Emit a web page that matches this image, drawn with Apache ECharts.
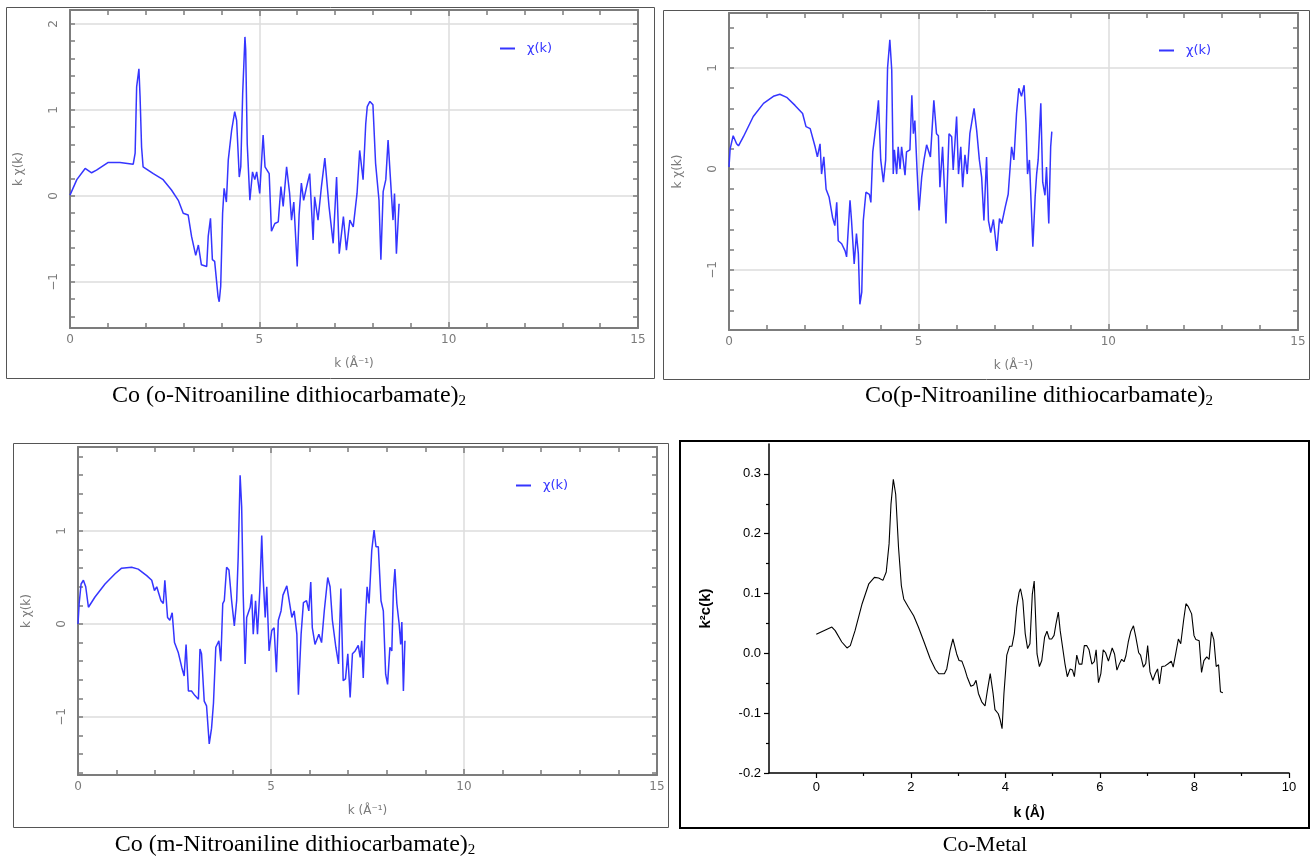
<!DOCTYPE html>
<html><head><meta charset="utf-8">
<script src="https://cdn.jsdelivr.net/npm/echarts@6/dist/echarts.min.js"></script>
<style>html,body{margin:0;padding:0;background:#fff}#c{width:1312px;height:863px}</style>
</head><body><div id="c"></div>
<script>
// ---------- DATA ----------
const kTicks = [0, 5, 10, 15];
const metalKTicks = [0, 2, 4, 6, 8, 10];
const metalKMinor = [1, 3, 5, 7, 9];
const metalYTicks = [-0.2, -0.1, 0, 0.1, 0.2, 0.3];
const metalYMinor = [-0.15, -0.05, 0.05, 0.15, 0.25];

const oMajor = [-1, 0, 1, 2];
const oMinor = [-1.4, -1.2, -1, -0.8, -0.6, -0.4, -0.2, 0, 0.2, 0.4, 0.6, 0.8, 1, 1.2, 1.4, 1.6, 1.8, 2];
const pMajor = [-1, 0, 1];
const pMinor = [-1.4, -1.2, -1, -0.8, -0.6, -0.4, -0.2, 0, 0.2, 0.4, 0.6, 0.8, 1, 1.2, 1.4];
const mMajor = [-1, 0, 1];
const mMinor = [-1.6, -1.4, -1.2, -1, -0.8, -0.6, -0.4, -0.2, 0, 0.2, 0.4, 0.6, 0.8, 1, 1.2, 1.4, 1.6, 1.8];

const captions = [
  'Co (o-Nitroaniline dithiocarbamate)',
  'Co(p-Nitroaniline dithiocarbamate)',
  'Co (m-Nitroaniline dithiocarbamate)',
  'Co-Metal'
];

const oNitro = [[0,0.01],[0.18,0.19],[0.40,0.32],[0.57,0.27],[0.70,0.30],[1.01,0.39],[1.32,0.39],[1.67,0.37],[1.72,0.50],[1.76,1.27],
[1.82,1.48],[1.85,1.16],[1.89,0.57],[1.93,0.34],[2.20,0.26],[2.46,0.19],[2.68,0.07],[2.86,-0.05],[2.99,-0.20],[3.12,-0.22],
[3.21,-0.47],[3.32,-0.69],[3.39,-0.57],[3.47,-0.80],[3.61,-0.82],[3.65,-0.47],[3.71,-0.26],[3.76,-0.74],[3.82,-0.76],[3.91,-1.17],
[3.94,-1.23],[3.98,-1.05],[4.03,-0.20],[4.07,0.09],[4.13,-0.07],[4.18,0.42],[4.27,0.77],[4.35,0.98],[4.40,0.88],[4.47,0.22],
[4.51,0.34],[4.56,1.19],[4.62,1.85],[4.64,1.70],[4.68,0.61],[4.75,-0.05],[4.82,0.28],[4.88,0.19],[4.93,0.28],[5.01,0.03],
[5.10,0.71],[5.15,0.34],[5.26,0.26],[5.32,-0.41],[5.41,-0.32],[5.50,-0.30],[5.57,0.11],[5.63,-0.12],[5.72,0.34],[5.80,0.03],
[5.85,-0.28],[5.91,-0.07],[6.00,-0.82],[6.05,-0.22],[6.11,0.15],[6.17,-0.05],[6.24,0.09],[6.33,0.26],[6.42,-0.51],[6.46,-0.01],
[6.55,-0.28],[6.64,0.11],[6.73,0.44],[6.77,0.46],[6.84,-0.12],[6.95,-0.55],[7.04,0.22],[7.11,-0.67],[7.22,-0.24],[7.30,-0.63],
[7.39,-0.28],[7.48,-0.36],[7.58,0.03],[7.65,0.53],[7.74,0.19],[7.81,0.84],[7.85,1.04],[7.92,1.10],[8.00,1.06],[8.07,0.38],
[8.16,-0.05],[8.21,-0.74],[8.27,0.05],[8.34,0.19],[8.40,0.65],[8.46,0.22],[8.53,-0.28],[8.57,0.03],[8.62,-0.67],[8.69,-0.09]];

const pNitro = [[0,0.02],[0.03,0.20],[0.11,0.33],[0.20,0.25],[0.25,0.23],[0.38,0.32],[0.64,0.52],[0.91,0.65],[1.17,0.72],[1.34,0.74],
[1.52,0.71],[1.74,0.63],[1.94,0.55],[2.03,0.42],[2.14,0.40],[2.27,0.22],[2.33,0.12],[2.40,0.25],[2.44,-0.05],[2.50,0.12],
[2.56,-0.20],[2.64,-0.28],[2.73,-0.48],[2.79,-0.56],[2.84,-0.33],[2.88,-0.71],[2.97,-0.74],[3.06,-0.81],[3.10,-0.87],[3.19,-0.31],
[3.23,-0.51],[3.30,-0.94],[3.36,-0.64],[3.41,-0.84],[3.45,-1.34],[3.50,-1.22],[3.54,-0.51],[3.61,-0.23],[3.70,-0.25],[3.74,-0.33],
[3.79,0.17],[3.89,0.48],[3.94,0.68],[4.00,0.09],[4.07,-0.13],[4.13,0.09],[4.18,1.00],[4.24,1.28],[4.29,0.98],[4.33,-0.05],
[4.36,0.19],[4.42,-0.05],[4.46,0.22],[4.51,0.00],[4.55,0.22],[4.64,-0.06],[4.68,0.17],[4.77,0.19],[4.82,0.73],[4.86,0.35],
[4.90,0.48],[4.96,-0.03],[5.01,-0.41],[5.08,-0.08],[5.14,0.09],[5.21,0.24],[5.31,0.12],[5.40,0.68],[5.47,0.35],[5.52,0.33],
[5.56,-0.18],[5.63,0.22],[5.72,-0.54],[5.80,0.35],[5.87,0.32],[5.91,-0.01],[6.00,0.52],[6.05,-0.05],[6.11,0.22],[6.16,-0.18],
[6.22,0.14],[6.28,-0.05],[6.35,0.35],[6.46,0.60],[6.53,0.38],[6.60,0.09],[6.66,-0.08],[6.72,-0.51],[6.79,0.12],[6.84,-0.51],
[6.90,-0.63],[6.97,-0.50],[7.06,-0.81],[7.13,-0.49],[7.19,-0.54],[7.28,-0.38],[7.36,-0.25],[7.45,0.22],[7.51,0.09],[7.58,0.55],
[7.64,0.80],[7.71,0.72],[7.78,0.83],[7.83,0.45],[7.87,-0.05],[7.92,0.09],[8.01,-0.77],[8.07,-0.28],[8.11,-0.05],[8.15,0.09],
[8.22,0.65],[8.27,-0.13],[8.33,-0.26],[8.37,0.02],[8.43,-0.54],[8.48,0.22],[8.51,0.37]];

const mNitro = [[0,0],[0.03,0.22],[0.08,0.43],[0.14,0.47],[0.20,0.40],[0.27,0.18],[0.44,0.29],[0.70,0.43],[0.96,0.54],[1.13,0.60],
[1.39,0.61],[1.56,0.59],[1.78,0.52],[1.91,0.47],[1.98,0.36],[2.04,0.40],[2.15,0.25],[2.21,0.22],[2.25,0.47],[2.32,0.07],
[2.38,0.04],[2.44,0.12],[2.50,-0.20],[2.60,-0.31],[2.69,-0.47],[2.75,-0.56],[2.80,-0.22],[2.86,-0.72],[2.94,-0.72],[3.03,-0.77],
[3.12,-0.81],[3.16,-0.27],[3.20,-0.32],[3.27,-0.83],[3.33,-0.88],[3.40,-1.29],[3.46,-1.12],[3.51,-0.85],[3.57,-0.25],[3.65,-0.18],
[3.70,-0.40],[3.75,0.22],[3.79,0.25],[3.85,0.61],[3.91,0.58],[3.98,0.25],[4.05,-0.02],[4.11,0.25],[4.15,0.72],[4.20,1.60],
[4.24,1.26],[4.28,0.32],[4.33,-0.43],[4.37,0.07],[4.46,0.18],[4.50,0.32],[4.54,-0.11],[4.60,0.25],[4.65,-0.11],[4.71,0.36],
[4.76,0.95],[4.80,0.47],[4.85,0.07],[4.89,0.40],[4.95,-0.29],[5.02,-0.07],[5.08,-0.04],[5.14,-0.52],[5.19,0.04],[5.26,0.14],
[5.31,0.31],[5.41,0.41],[5.45,0.40],[5.54,0.07],[5.60,0.14],[5.67,-0.11],[5.71,-0.76],[5.78,-0.11],[5.84,0.23],[5.92,0.25],
[5.98,0.14],[6.03,0.45],[6.07,-0.04],[6.14,-0.22],[6.24,-0.11],[6.31,-0.20],[6.38,0.14],[6.47,0.50],[6.53,0.40],[6.59,0.04],
[6.68,-0.25],[6.75,-0.43],[6.81,0.38],[6.87,-0.61],[6.93,-0.59],[6.99,-0.32],[7.05,-0.79],[7.11,-0.32],[7.18,-0.29],[7.26,-0.23],
[7.31,-0.36],[7.35,-0.18],[7.39,-0.58],[7.44,0.00],[7.49,0.40],[7.54,0.22],[7.61,0.79],[7.67,1.01],[7.72,0.83],[7.78,0.83],
[7.85,0.25],[7.91,0.14],[7.97,-0.54],[8.02,-0.65],[8.08,-0.25],[8.13,-0.29],[8.17,0.36],[8.21,0.59],[8.26,0.22],[8.32,0.00],
[8.36,-0.22],[8.39,0.02],[8.43,-0.72],[8.47,-0.18]];

const coMetal = [[0.00,0.032],[0.33,0.044],[0.40,0.038],[0.54,0.019],[0.65,0.009],[0.72,0.013],[0.82,0.038],[0.97,0.083],[1.11,0.116],[1.23,0.127],
[1.32,0.126],[1.41,0.122],[1.48,0.136],[1.54,0.183],[1.58,0.249],[1.63,0.291],[1.68,0.266],[1.74,0.177],[1.80,0.113],[1.85,0.091],
[1.95,0.077],[2.06,0.063],[2.16,0.044],[2.28,0.019],[2.41,-0.009],[2.52,-0.027],[2.59,-0.034],[2.71,-0.034],[2.76,-0.026],[2.83,0.005],
[2.89,0.024],[2.92,0.022],[2.97,-0.001],[3.02,-0.012],[3.08,-0.013],[3.14,-0.026],[3.19,-0.039],[3.27,-0.055],[3.33,-0.053],[3.38,-0.045],
[3.43,-0.067],[3.50,-0.081],[3.57,-0.088],[3.62,-0.062],[3.68,-0.034],[3.74,-0.067],[3.78,-0.094],[3.85,-0.101],[3.89,-0.111],[3.93,-0.126],
[3.97,-0.067],[4.03,-0.003],[4.09,0.012],[4.14,0.012],[4.19,0.033],[4.24,0.077],[4.29,0.102],[4.32,0.108],[4.37,0.088],[4.42,0.033],
[4.47,0.008],[4.52,0.016],[4.57,0.099],[4.61,0.121],[4.67,-0.001],[4.72,-0.022],[4.77,-0.012],[4.83,0.027],[4.88,0.037],[4.93,0.024],
[4.98,0.024],[5.03,0.030],[5.07,0.049],[5.12,0.069],[5.16,0.038],[5.19,0.036],[5.26,-0.017],[5.31,-0.039],[5.37,-0.026],[5.42,-0.028],
[5.46,-0.039],[5.51,-0.003],[5.56,-0.018],[5.62,-0.018],[5.67,0.013],[5.72,0.013],[5.77,0.006],[5.83,-0.018],[5.88,-0.014],[5.92,0.006],
[5.97,-0.049],[6.02,-0.034],[6.07,0.006],[6.12,0.001],[6.18,-0.013],[6.22,-0.012],[6.26,0.009],[6.31,-0.001],[6.36,-0.028],[6.41,-0.018],
[6.46,-0.010],[6.51,-0.014],[6.55,-0.004],[6.60,0.019],[6.65,0.036],[6.71,0.046],[6.76,0.027],[6.82,0.001],[6.86,-0.003],[6.92,-0.023],
[6.97,-0.017],[7.01,0.013],[7.06,-0.031],[7.12,-0.045],[7.17,-0.034],[7.22,-0.026],[7.26,-0.051],[7.31,-0.022],[7.38,-0.021],[7.45,-0.017],
[7.51,-0.013],[7.55,-0.023],[7.61,0.002],[7.66,0.024],[7.71,0.016],[7.77,0.055],[7.82,0.083],[7.87,0.078],[7.94,0.066],[7.99,0.030],
[8.03,0.023],[8.10,0.021],[8.15,-0.032],[8.20,-0.012],[8.26,-0.006],[8.31,-0.010],[8.36,0.036],[8.41,0.023],[8.46,-0.022],[8.51,-0.019],
[8.55,-0.064],[8.60,-0.066]];

// ---------- LAYOUT / STYLE ----------
const AX = '#7c7c7c', LBL = '#7a7a7a', GRID = '#dcdcdc', BLUE = '#3535ff';
const panels = [
  {grid:{left:70, top:10, width:568, height:318}, ymin:-1.535, ymax:2.163, major:oMajor, minor:oMinor, data:oNitro, legend:{left:495, top:37}},
  {grid:{left:729, top:13, width:569, height:317}, ymin:-1.594, ymax:1.545, major:pMajor, minor:pMinor, data:pNitro, legend:{left:1154, top:39}},
  {grid:{left:78, top:447, width:579, height:328}, ymin:-1.624, ymax:1.903, major:mMajor, minor:mMinor, data:mNitro, legend:{left:511, top:474}}
];

const grids = [], xAxes = [], yAxes = [], series = [], legends = [];
const fmtMinus = v => (v < 0 ? '\u2212' + (-v) : String(v));

panels.forEach((p, i) => {
  grids.push(Object.assign({containLabel:false}, p.grid));
  const xi = xAxes.length, yi = yAxes.length;
  const xBase = {gridIndex:i, type:'value', min:0, max:15, interval:5,
    axisLine:{show:true, onZero:false, lineStyle:{color:AX, width:2}},
    axisTick:{show:true, inside:true, length:6, lineStyle:{color:AX, width:1.5}},
    minorTick:{show:true, splitNumber:5, length:5, lineStyle:{color:AX, width:1.5}}};
  xAxes.push(Object.assign({}, xBase, {position:'bottom',
    axisLabel:{show:true, color:LBL, fontSize:12, fontFamily:'DejaVu Sans', margin:6, customValues:kTicks},
    splitLine:{show:true, lineStyle:{color:GRID, width:1.5}},
    name:'k (\u00C5\u207B\u00B9)', nameLocation:'middle', nameGap:30,
    nameTextStyle:{color:LBL, fontSize:12, fontFamily:'DejaVu Sans'}}));
  xAxes.push(Object.assign({}, xBase, {position:'top', axisLabel:{show:false}, splitLine:{show:false}}));
  const yBase = {gridIndex:i, type:'value', min:p.ymin, max:p.ymax};
  yAxes.push(Object.assign({}, yBase, {position:'left',
    axisLine:{show:true, onZero:false, lineStyle:{color:AX, width:2}},
    axisTick:{show:true, inside:true, length:5, customValues:p.minor, lineStyle:{color:AX, width:1.5}},
    axisLabel:{show:true, rotate:90, margin:10, color:LBL, fontSize:12, fontFamily:'DejaVu Sans', customValues:p.major, formatter:fmtMinus},
    splitLine:{show:false},
    name:'k \u03C7(k)', nameLocation:'middle', nameGap:45, nameRotate:90,
    nameTextStyle:{color:LBL, fontSize:12, fontFamily:'DejaVu Sans'}}));
  yAxes.push(Object.assign({}, yBase, {position:'right',
    axisLine:{show:true, onZero:false, lineStyle:{color:AX, width:2}},
    axisTick:{show:true, inside:true, length:5, customValues:p.minor, lineStyle:{color:AX, width:1.5}},
    axisLabel:{show:false}, splitLine:{show:false}}));
  yAxes.push(Object.assign({}, yBase, {position:'left',
    axisLine:{show:false, onZero:false}, axisTick:{show:false, customValues:p.major},
    axisLabel:{show:false}, splitLine:{show:true, lineStyle:{color:GRID, width:1.5}}}));
  series.push({type:'line', name:'\u03C7(k)', xAxisIndex:xi, yAxisIndex:yi, data:p.data,
    symbol:'none', lineStyle:{color:BLUE, width:1.5}, itemStyle:{color:BLUE}, animation:false, z:3});
  legends.push({data:['\u03C7(k)'], left:p.legend.left, top:p.legend.top, icon:'rect',
    itemWidth:15, itemHeight:2, selectedMode:false,
    textStyle:{color:BLUE, fontSize:13, fontFamily:'DejaVu Sans', padding:[0,0,0,7]}});
});

// Co-Metal panel (Origin style)
const gi4 = grids.length;
grids.push({left:769, top:444, width:520, height:329, containLabel:false});
const x4 = xAxes.length, y4 = yAxes.length;
xAxes.push({gridIndex:gi4, type:'value', min:-1, max:10, position:'bottom',
  axisLine:{show:true, onZero:false, lineStyle:{color:'#000', width:1.5}},
  axisTick:{show:true, inside:false, length:5, customValues:metalKTicks, lineStyle:{color:'#000', width:1.2}},
  axisLabel:{show:true, customValues:metalKTicks, color:'#000', fontSize:13, fontFamily:'Liberation Sans', margin:8},
  splitLine:{show:false},
  name:'k (\u00C5)', nameLocation:'middle', nameGap:33,
  nameTextStyle:{color:'#000', fontSize:14, fontWeight:'bold', fontFamily:'Liberation Sans'}});
xAxes.push({gridIndex:gi4, type:'value', min:-1, max:10, position:'bottom',
  axisLine:{show:false, onZero:false}, axisTick:{show:true, inside:false, length:3, customValues:metalKMinor, lineStyle:{color:'#000', width:1.2}},
  axisLabel:{show:false}, splitLine:{show:false}});
yAxes.push({gridIndex:gi4, type:'value', min:-0.2, max:0.35, position:'left',
  axisLine:{show:true, onZero:false, lineStyle:{color:'#000', width:1.5}},
  axisTick:{show:true, inside:false, length:5, customValues:metalYTicks, lineStyle:{color:'#000', width:1.2}},
  axisLabel:{show:true, customValues:metalYTicks, color:'#000', fontSize:13, fontFamily:'Liberation Sans', margin:8,
    formatter:v => v.toFixed(1)},
  splitLine:{show:false},
  name:'k\u00B2c(k)', nameLocation:'middle', nameGap:56, nameRotate:90,
  nameTextStyle:{color:'#000', fontSize:15, fontWeight:'bold', fontFamily:'Liberation Sans'}});
yAxes.push({gridIndex:gi4, type:'value', min:-0.2, max:0.35, position:'left',
  axisLine:{show:false, onZero:false}, axisTick:{show:true, inside:false, length:3, customValues:metalYMinor, lineStyle:{color:'#000', width:1.2}},
  axisLabel:{show:false}, splitLine:{show:false}});
series.push({type:'line', name:'Co-Metal', xAxisIndex:x4, yAxisIndex:y4, data:coMetal,
  symbol:'none', lineStyle:{color:'#000', width:1.1}, animation:false});

// frames and captions
const frame = (x, y, w, h, c, lw) => ({type:'rect', silent:true, z:-1,
  shape:{x:x, y:y, width:w, height:h}, style:{fill:null, stroke:c, lineWidth:lw}});
const caption = (cx, cy, txt, sub, fs) => ({type:'text', silent:true, x:cx, y:cy,
  style:{text: sub ? '{a|' + txt + '}{b|2}' : '{a|' + txt + '}', align:'center', verticalAlign:'middle',
    rich:{a:{fontFamily:'Liberation Serif', fontSize:fs, fill:'#000', lineHeight:28},
          b:{fontFamily:'Liberation Serif', fontSize:15, fill:'#000', lineHeight:28, padding:[11,0,0,0]}}}});

const graphics = [
  frame(6.5, 7.5, 648, 371, '#555', 1),
  frame(663.5, 10.5, 646, 369, '#555', 1),
  frame(13.5, 443.5, 655, 384, '#555', 1),
  frame(680, 441, 629, 387, '#000', 2),
  caption(289, 396, captions[0], true, 24),
  caption(1039, 396, captions[1], true, 24),
  caption(295, 845, captions[2], true, 24),
  caption(985, 845, captions[3], false, 22)
];

const chart = echarts.init(document.getElementById('c'), null, {renderer:'canvas'});
chart.setOption({
  backgroundColor:'#fff', animation:false,
  grid:grids, xAxis:xAxes, yAxis:yAxes, series:series, legend:legends, graphic:graphics
});
</script></body></html>
